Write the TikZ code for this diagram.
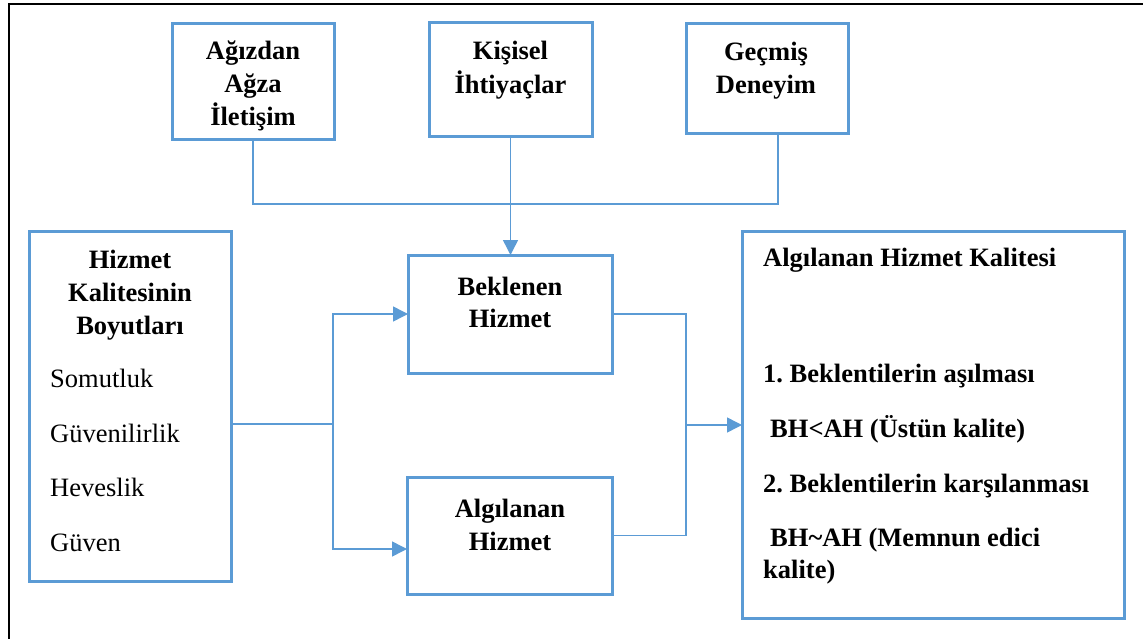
\documentclass[tikz,border=0pt]{standalone}
\usepackage{fontspec}
\setmainfont{Liberation Serif}
\frenchspacing
\usetikzlibrary{arrows.meta}
\definecolor{boxblue}{HTML}{5B9BD5}
\begin{document}
\begin{tikzpicture}[x=1pt,y=-1pt,
  box/.style={draw=boxblue,line width=3pt,anchor=north west,inner sep=0pt,outer sep=0pt},
  conn/.style={draw=boxblue,line width=1.5pt},
  arr/.style={conn,-{Triangle[length=15pt,width=15pt]}},
  tb/.style={font=\fontsize{26.5}{33}\selectfont\bfseries,inner sep=0pt,anchor=base},
  tbl/.style={tb,anchor=base west},
  tr/.style={font=\fontsize{26.5}{33}\selectfont,inner sep=0pt,anchor=base west}]
\useasboundingbox (0,0) rectangle (1143,639);
\draw[line width=2.5pt] (9,639) -- (9,4) -- (1143,4);

% boxes
\node[box,minimum width=162pt,minimum height=116pt] (A) at (172,24) {};
\node[box,minimum width=163pt,minimum height=114pt] (K) at (429,23) {};
\node[box,minimum width=162pt,minimum height=110pt] (G) at (686,24) {};
\node[box,minimum width=202pt,minimum height=349pt] (H) at (29,232) {};
\node[box,minimum width=204pt,minimum height=118pt] (B) at (408,255) {};
\node[box,minimum width=205pt,minimum height=117pt] (AH) at (407,477) {};
\node[box,minimum width=382pt,minimum height=386pt] (R) at (742,232) {};

% texts
\node[tb] (a1) at (253,60) {Ağızdan};
\node[tb] (a2) at (253,93) {Ağza};
\node[tb] (a3) at (253,126) {İletişim};
\node[tb] (k1) at (510.5,60) {Kişisel};
\node[tb] (k2) at (510.5,94) {İhtiyaçlar};
\node[tb] (g1) at (766,61) {Geçmiş};
\node[tb] (g2) at (766,94) {Deneyim};
\node[tb] (h1) at (130,268) {Hizmet};
\node[tb] (h2) at (130,301) {Kalitesinin};
\node[tb] (h3) at (130,334) {Boyutları};
\node[tr] (h4) at (50,387) {Somutluk};
\node[tr] (h5) at (50,442) {Güvenilirlik};
\node[tr] (h6) at (50,496) {Heveslik};
\node[tr] (h7) at (50,551) {Güven};
\node[tb] (b1) at (510,295) {Beklenen};
\node[tb] (b2) at (510,327) {Hizmet};
\node[tb] (ah1) at (510,517) {Algılanan};
\node[tb] (ah2) at (510,550) {Hizmet};
\node[tbl] (r1) at (763,266) {Algılanan Hizmet Kalitesi};
\node[tbl] (r2) at (763,382) {1. Beklentilerin aşılması};
\node[tbl] (r3) at (770,437) {BH<AH (Üstün kalite)};
\node[tbl] (r4) at (763,492) {2. Beklentilerin karşılanması};
\node[tbl] (r5) at (770,546) {BH\textasciitilde AH (Memnun edici};
\node[tbl] (r6) at (763,578) {kalite)};

% connectors
\coordinate (gb) at (778,134);
\coordinate (jA) at (253,204);
\coordinate (jG) at (778,204);
\draw[conn] (A.south) -- (jA) -- (jG) -- (gb);
\draw[arr] (K.south) -- (K.south |- B.north);

\coordinate (jL) at (333,424);
\coordinate (hout) at (H.east |- jL);
\coordinate (jLt) at (jL |- B.west);
\coordinate (jLb) at (333,549);
\coordinate (ahin) at (AH.west |- jLb);
\draw[conn] (hout) -- (jL);
\draw[arr] (jL) -- (jLt) -- (B.west);
\draw[arr] (jL) -- (jLb) -- (ahin);

\coordinate (jRt) at (686,0 |- B.east);
\coordinate (jRb) at (686,0 |- AH.east);
\coordinate (jR) at (686,0 |- R.west);
\draw[conn] (B.east) -- (jRt) -- (jRb) -- (AH.east);
\draw[arr] (jR) -- (R.west);
\end{tikzpicture}
\end{document}
